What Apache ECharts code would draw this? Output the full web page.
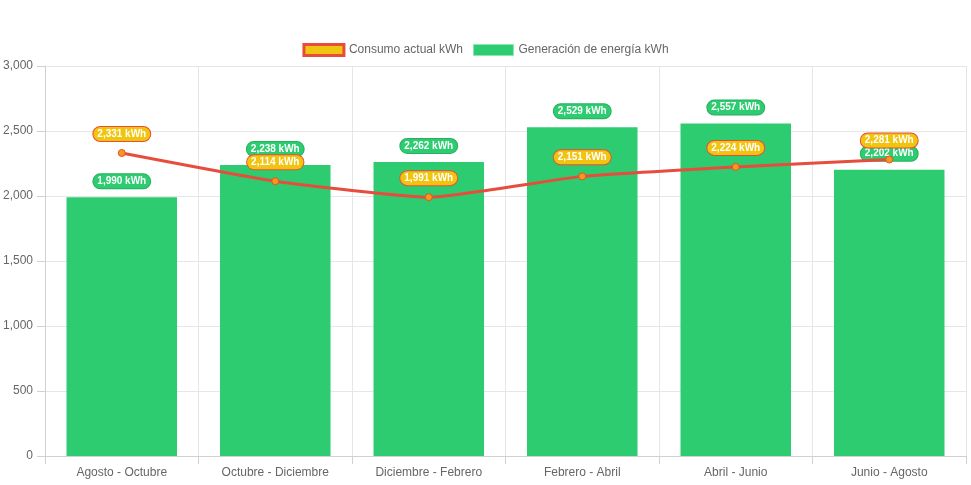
<!DOCTYPE html>
<html>
<head>
<meta charset="utf-8">
<script src="https://cdn.jsdelivr.net/npm/echarts@6/dist/echarts.min.js"></script>
<style>html,body{margin:0;padding:0;background:#fff}#c{width:971px;height:485px}</style>
</head>
<body>
<div id="c"></div>
<script>
const categories = ['Agosto - Octubre','Octubre - Diciembre','Diciembre - Febrero','Febrero - Abril','Abril - Junio','Junio - Agosto'];
const consumo = [2331, 2114, 1991, 2151, 2224, 2281];
const generacion = [1990, 2238, 2262, 2529, 2557, 2202];
const yTicks = [0, 500, 1000, 1500, 2000, 2500, 3000];

const fmt = v => v.toLocaleString('en-US') + ' kWh';
const chart = echarts.init(document.getElementById('c'));
const font = 'Helvetica, Arial, "Liberation Sans", sans-serif';
chart.setOption({
  animation: false,
  textStyle: { fontFamily: font },
  legend: {
    top: 38,
    left: 'center',
    itemWidth: 40,
    itemHeight: 11,
    itemGap: 10,
    textStyle: { color: '#666', fontSize: 12, fontFamily: font },
    data: [
      { name: 'Consumo actual kWh', icon: 'rect', itemStyle: { color: '#f1c40f', borderColor: '#e74c3c', borderWidth: 3 }, lineStyle: { width: 0, opacity: 0 } },
      { name: 'Generación de energía kWh', icon: 'rect', itemStyle: { color: '#2ecc71', borderColor: '#8ee6b0', borderWidth: 1 } }
    ]
  },
  grid: { left: 44, right: 5, top: 66, bottom: 29, containLabel: false },
  xAxis: {
    type: 'category',
    data: categories,
    boundaryGap: true,
    axisLine: { lineStyle: { color: '#d0d0d0' } },
    axisTick: { show: true, length: 8, lineStyle: { color: '#d0d0d0' } },
    splitLine: { show: true, lineStyle: { color: '#e6e6e6' } },
    axisLabel: { color: '#666', fontSize: 12, margin: 11, fontFamily: font }
  },
  yAxis: {
    type: 'value',
    min: yTicks[0],
    max: yTicks[yTicks.length - 1],
    interval: 500,
    axisLine: { show: true, lineStyle: { color: '#d0d0d0' } },
    axisTick: { show: true, length: 8, lineStyle: { color: '#d0d0d0' } },
    splitLine: { lineStyle: { color: '#e6e6e6' } },
    axisLabel: { color: '#666', fontSize: 12, margin: 12, fontFamily: font, formatter: v => v.toLocaleString('en-US') }
  },
  series: [
    {
      name: 'Consumo actual kWh',
      type: 'line',
      data: consumo,
      z: 5,
      smooth: 0.15,
      symbol: 'circle',
      symbolSize: 7,
      lineStyle: { color: '#e74c3c', width: 3 },
      itemStyle: { color: '#f39c12', borderColor: '#e74c3c', borderWidth: 1 },
      label: {
        show: true, position: 'top', distance: 8,
        formatter: p => fmt(p.value),
        color: '#fff', fontWeight: 'bold', fontSize: 10, fontFamily: font,
        backgroundColor: '#f1c40f', borderColor: '#e74c3c', borderWidth: 1,
        borderRadius: 7, padding: [2, 4, 2, 4]
      }
    },
    {
      name: 'Generación de energía kWh',
      type: 'bar',
      data: generacion,
      z: 2,
      barWidth: '72%',
      itemStyle: { color: '#2ecc71' },
      label: {
        show: true, position: 'top', distance: 9,
        formatter: p => fmt(p.value),
        color: '#fff', fontWeight: 'bold', fontSize: 10, fontFamily: font,
        backgroundColor: '#2ecc71', borderColor: '#27ae60', borderWidth: 1,
        borderRadius: 7, padding: [2, 4, 2, 4]
      }
    }
  ]
});
</script>
</body>
</html>
